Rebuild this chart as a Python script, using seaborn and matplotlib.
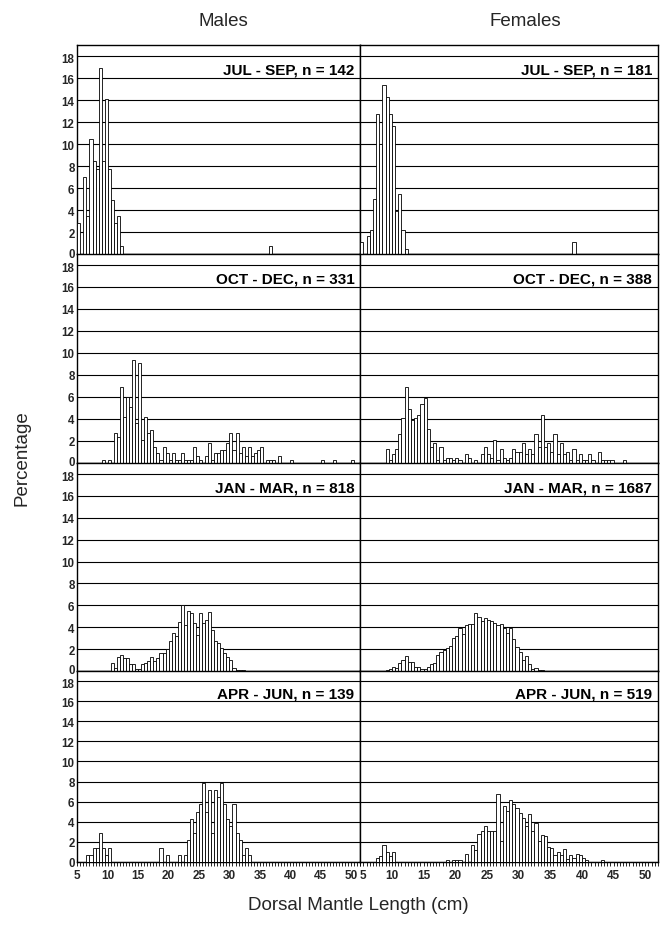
import numpy as np
import pandas as pd
import matplotlib
matplotlib.use("Agg")
import matplotlib.pyplot as plt
import matplotlib.transforms as mtransforms
import seaborn as sns

# ---------------- data (percentage per 0.5 cm bin, first bin starts at 5.0 cm) ----------------
BIN_START = 5.0
BIN_WIDTH = 0.5

seasons = ["JUL - SEP", "OCT - DEC", "JAN - MAR", "APR - JUN"]
n_males = [142, 331, 818, 139]
n_females = [181, 388, 1687, 519]

males_jul_sep = [2.8, 0, 7.0, 3.5, 10.5, 8.5, 7.7, 16.9, 8.5, 14.1, 7.7, 4.9, 2.8, 3.5, 0.7] \
    + [0] * 48 + [0.7]
females_jul_sep = [1.1, 0, 1.6, 2.2, 5.0, 12.7, 10.0, 15.4, 14.3, 12.7, 11.6, 3.9, 5.5, 2.2, 0.5] \
    + [0] * 52 + [1.1]

males_oct_dec = [0, 0, 0, 0, 0, 0, 0, 0, 0.3, 0, 0.3, 0,
                 2.7, 2.4, 6.9, 4.2, 6.0, 5.1, 9.4, 3.6, 9.1, 2.1, 4.2, 2.7, 3.0,
                 1.5, 0.9, 0.3, 1.5, 0.9, 0.3, 0.9, 0.3, 0.3, 0.9, 0.3, 0.3, 0.3,
                 1.5, 0.6, 0.3, 0, 0.6, 1.8, 0.3, 0.9, 0.9, 1.2, 1.2, 1.8, 2.7,
                 1.2, 2.7, 0.9, 1.5, 0.6, 1.5, 0.6, 0.9, 1.2, 1.5, 0, 0.3, 0.3,
                 0.3, 0, 0.6, 0, 0, 0, 0.3, 0, 0, 0, 0, 0, 0, 0, 0, 0, 0.3,
                 0, 0, 0, 0.3, 0, 0, 0, 0, 0, 0.3]
females_oct_dec = [0, 0, 0, 0, 0, 0, 0, 0,
                   1.3, 0.3, 0.8, 1.3, 2.6, 4.1, 6.9, 4.9, 3.9, 4.1, 4.4, 5.4, 5.9,
                   3.1, 1.5, 1.8, 0.3, 1.5, 0.3, 0.5, 0.5, 0.3, 0.5, 0.3, 0, 0.8,
                   0.5, 0, 0.3, 0, 0.8, 1.5, 0.8, 0.5, 2.1, 0.3, 1.3, 0.5, 0.3,
                   0.5, 1.3, 1.0, 1.0, 1.8, 0.8, 1.3, 0.8, 2.6, 1.5, 4.4, 1.5,
                   1.8, 1.0, 2.6, 0.8, 1.8, 0.8, 1.0, 0.3, 1.3, 0.3, 0.8, 0.3,
                   0.3, 0.8, 0.3, 0, 1.0, 0.3, 0.3, 0.3, 0.3, 0, 0, 0, 0.3]

males_jan_mar = [0] * 11 + [0.7, 0.3, 1.3, 1.5, 1.2, 1.2, 0.6, 0.6, 0.2, 0.2, 0.6,
                            0.7, 0.9, 1.3, 0.9, 1.2, 1.6, 1.6, 2.0, 2.7, 3.5, 3.2,
                            4.5, 6.0, 4.2, 5.5, 5.3, 4.4, 3.3, 5.3, 4.4, 4.7, 5.4,
                            3.7, 2.7, 2.6, 2.1, 1.6, 1.3, 1.0, 0.3, 0.1, 0.1, 0.1]
females_jan_mar = [0] * 8 + [0.1, 0.2, 0.4, 0.3, 0.7, 1.0, 1.4, 0.8, 0.8, 0.4, 0.4,
                             0.2, 0.2, 0.4, 0.6, 0.7, 1.5, 1.7, 1.9, 2.1, 2.3, 3.0,
                             3.2, 3.9, 3.4, 4.2, 4.3, 4.3, 5.3, 4.9, 4.6, 4.8, 4.7,
                             4.6, 4.4, 4.2, 4.3, 3.9, 3.5, 3.9, 2.9, 2.2, 1.7, 1.0,
                             1.4, 0.6, 0.2, 0.3, 0.1, 0.1]

males_apr_jun = [0, 0, 0, 0.7, 0.7, 1.4, 1.4, 2.9, 1.4, 0.7, 1.4] + [0] * 16 + \
    [1.4, 0, 0.7, 0, 0, 0, 0.7, 0, 0.7, 2.2, 4.3, 2.9, 5.0, 5.8, 7.9, 5.0, 7.2,
     2.9, 7.2, 6.5, 7.9, 5.8, 4.3, 3.6, 5.8, 2.9, 2.2, 0.7, 1.4, 0.7]
females_apr_jun = [0, 0, 0, 0, 0, 0.4, 0.6, 1.7, 1.0, 0.6, 1.0] + [0] * 16 + \
    [0.2, 0, 0.2, 0.2, 0.2, 0, 0.8, 0, 1.7, 1.2, 2.8, 3.1, 3.6, 3.1, 3.1, 3.1,
     6.8, 2.1, 5.6, 5.1, 6.2, 5.8, 5.4, 4.9, 4.4, 3.6, 4.8, 3.1, 3.9, 2.1, 2.7,
     2.6, 1.5, 1.4, 0.7, 1.0, 0.7, 1.3, 0.3, 0.7, 0.4, 0.8, 0.7, 0.4, 0.2,
     0, 0, 0, 0, 0.2]

males = [males_jul_sep, males_oct_dec, males_jan_mar, males_apr_jun]
females = [females_jul_sep, females_oct_dec, females_jan_mar, females_apr_jun]

y_ticks = list(range(0, 19, 2))
x_major = list(range(5, 51, 5))

# ---------------- style ----------------
sns.set_theme(style="white")
plt.rcParams['font.family'] = ['Liberation Sans', 'DejaVu Sans']

W, H = 663, 928
fig = plt.figure(figsize=(W / 100, H / 100), dpi=100)

col_left_px = [77.3, 360.3]
col_width_px = [283.0, 297.7]
col_xmax = [51.5, 52.0]
row_edges_px = [46, 255, 464, 672, 863]

for c, (col_data, ns) in enumerate([(males, n_males), (females, n_females)]):
    for r in range(4):
        top, bot = row_edges_px[r], row_edges_px[r + 1]
        ax = fig.add_axes([col_left_px[c] / W, 1 - bot / H,
                           col_width_px[c] / W, (bot - top) / H])
        pct = np.array(col_data[r], dtype=float)
        mids = BIN_START + BIN_WIDTH * np.arange(len(pct)) + BIN_WIDTH / 2
        df = pd.DataFrame({"length": mids, "pct": pct})
        sns.histplot(data=df, x="length", weights="pct", binwidth=BIN_WIDTH,
                     binrange=(BIN_START, BIN_START + BIN_WIDTH * len(pct)),
                     color="white", edgecolor="black", linewidth=0.6,
                     alpha=1, ax=ax, zorder=3)
        ax.set_xlim(BIN_START, col_xmax[c])
        ax.set_ylim(0, 19)
        ax.set_yticks(y_ticks)
        ax.yaxis.grid(True, color="black", linewidth=0.8)
        ax.xaxis.grid(False)
        ax.set_axisbelow(True)
        ax.set_xlabel("")
        ax.set_ylabel("")
        for sp in ax.spines.values():
            sp.set_color("black")
            sp.set_linewidth(1.0)
        ax.tick_params(axis="y", length=0, pad=2, labelsize=8.3,
                       labelleft=(c == 0))
        if c == 0:
            for lab in ax.get_yticklabels():
                lab.set_fontweight("bold")
                if lab.get_text() == "0" and r < 3:
                    lab.set_transform(lab.get_transform() +
                                      mtransforms.ScaledTranslation(0, 2 / 100, fig.dpi_scale_trans))
                elif lab.get_text() == "18":
                    lab.set_transform(lab.get_transform() +
                                      mtransforms.ScaledTranslation(0, -1.5 / 100, fig.dpi_scale_trans))
        if r == 3:
            ax.set_xticks(x_major)
            ax.set_xticks(np.arange(5, col_xmax[c] + 0.01, 0.5), minor=True)
            ax.tick_params(axis="x", which="both", direction="out", length=3,
                           width=0.6, color="black", bottom=True, labelsize=8.5, pad=2)
            for lab in ax.get_xticklabels():
                lab.set_fontweight("bold")
                if c == 1 and lab.get_text() == "5":
                    lab.set_transform(lab.get_transform() +
                                      mtransforms.ScaledTranslation(2.5 / 100, 0, fig.dpi_scale_trans))
        else:
            ax.set_xticks([])
        trans = mtransforms.blended_transform_factory(ax.transAxes, ax.transData)
        ax.text(1 - 6 / col_width_px[c], 16.8, f"{seasons[r]}, n = {ns[r]}",
                transform=trans, ha="right", va="center", fontsize=11,
                fontweight="bold", color="black", zorder=5)

fig.text(223 / W, 1 - 21 / H, "Males", ha="center", va="center", fontsize=13.5)
fig.text(525 / W, 1 - 21 / H, "Females", ha="center", va="center", fontsize=13.5)
fig.text(22 / W, 1 - 458 / H, "Percentage", rotation=90, ha="center",
         va="center", fontsize=13.5)
fig.text(358 / W, 1 - 906 / H, "Dorsal Mantle Length (cm)", ha="center",
         va="center", fontsize=13.5)

fig.savefig("out.png", dpi=100, facecolor="white")
